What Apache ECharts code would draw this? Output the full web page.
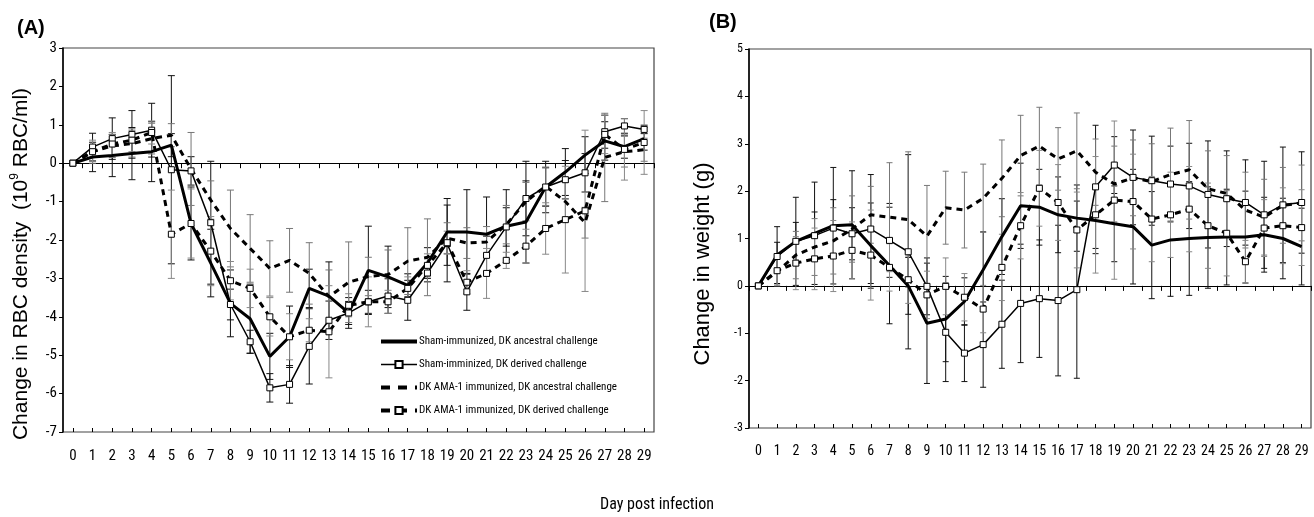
<!DOCTYPE html>
<html><head><meta charset="utf-8">
<script src="https://cdn.jsdelivr.net/npm/echarts@6/dist/echarts.min.js"></script>
<style>html,body{margin:0;padding:0;background:#fff}#c{width:1314px;height:517px}</style>
</head><body><div id="c"></div>
<script>
// ---------- data ----------
const days = ['0','1','2','3','4','5','6','7','8','9','10','11','12','13','14','15','16','17','18','19','20','21','22','23','24','25','26','27','28','29'];
const seriesNames = ['Sham-immunized, DK ancestral challenge','Sham-imminized, DK derived challenge','DK AMA-1 immunized, DK ancestral challenge','DK AMA-1 immunized, DK derived challenge'];

// Panel A: change in RBC density (10^9 RBC/ml)
const rbcShamAnc = [0,0.16,0.2,0.25,0.3,0.47,-1.57,-2.6,-3.65,-4.05,-5.03,-4.52,-3.26,-3.46,-3.9,-2.79,-2.96,-3.18,-2.6,-1.79,-1.79,-1.85,-1.64,-1.53,-0.62,-0.23,0.21,0.58,0.43,0.64];
const rbcShamDer = [0,0.42,0.64,0.75,0.86,-0.17,-0.2,-1.55,-3.68,-4.65,-5.85,-5.76,-4.77,-4.09,-3.9,-3.61,-3.46,-3.57,-2.86,-2.09,-3.35,-2.4,-1.66,-0.92,-0.62,-0.43,-0.25,0.82,0.97,0.88];
const rbcAmaAnc  = [0,0.3,0.45,0.51,0.64,0.73,-0.15,-0.96,-1.7,-2.22,-2.74,-2.53,-2.87,-3.48,-3.1,-2.95,-2.9,-2.55,-2.45,-1.95,-2.08,-2.05,-1.6,-1.0,-0.6,-1.0,-1.55,0.15,0.3,0.35];
const rbcAmaDer  = [0,0.3,0.5,0.6,0.8,-1.85,-1.57,-2.29,-3.06,-3.26,-4.0,-4.52,-4.35,-4.39,-3.7,-3.61,-3.61,-3.26,-2.66,-2.07,-3.1,-2.87,-2.53,-2.16,-1.7,-1.47,-1.24,0.75,0.36,0.54];
const rbcErrShamAnc = [0,0.38,0.55,0.68,0.78,0.3,0.95,0.88,0.87,0.9,0.6,0.8,0.5,0.89,0.4,1.15,0.8,0.3,0.4,0.87,1.1,0.97,0.95,1.07,0.67,0.61,0.48,0.5,0.3,0.3];
const rbcErrShamDer = [0,0.36,0.54,0.62,0.7,2.45,0.37,1.6,0.4,0.3,0.37,0.49,0.98,0.5,0.3,0.3,0.45,0.52,0.23,1.0,0.48,0.5,0.5,0.97,0.5,0.5,0.5,0.43,0.19,0.11];
const rbcErrAmaAnc  = [0,0.25,0.3,0.35,0.4,0.3,0.95,0.5,1.0,0.88,0.72,0.83,0.8,0.7,1.05,0.5,0.64,0.87,1.0,0.4,0.4,0.4,0.5,0.5,0.5,0.5,0.4,1.15,0.4,0.3];
const rbcErrAmaDer  = [0,0.3,0.3,0.3,0.3,1.15,0.9,0.9,0.5,0.5,0.5,0.6,0.3,1.2,0.3,0.65,0.3,0.3,0.3,0.3,0.3,0.65,0.21,0.44,0.67,1.39,2.1,0.5,0.8,0.83];

// Panel B: change in weight (g)
const wtShamAnc = [0,0.65,0.94,1.11,1.27,1.29,0.85,0.43,0.0,-0.79,-0.7,-0.33,0.34,1.04,1.69,1.66,1.5,1.43,1.38,1.31,1.25,0.86,0.97,1.0,1.02,1.03,1.03,1.08,1.0,0.83];
const wtShamDer = [0,0.62,0.94,1.06,1.22,1.1,1.2,0.96,0.72,-0.01,-0.98,-1.42,-1.24,-0.81,-0.37,-0.27,-0.31,-0.08,2.09,2.55,2.29,2.22,2.15,2.11,1.93,1.84,1.76,1.5,1.71,1.76];
const wtAmaAnc  = [0,0.3,0.65,0.82,0.95,1.2,1.5,1.45,1.4,1.05,1.65,1.6,1.85,2.27,2.75,2.95,2.68,2.85,2.4,2.15,2.28,2.2,2.35,2.45,2.05,1.95,1.6,1.45,1.7,1.75];
const wtAmaDer  = [0,0.32,0.48,0.57,0.63,0.75,0.65,0.39,0.13,-0.19,-0.01,-0.24,-0.49,0.39,1.27,2.06,1.76,1.18,1.5,1.81,1.78,1.41,1.5,1.62,1.27,1.11,0.51,1.22,1.27,1.23];
const wtErrShamAnc = [0,0.6,0.93,1.08,1.23,1.14,0.9,1.23,0.6,1.27,0.9,0.5,0.8,0.8,0.9,0.8,0.8,0.7,0.7,0.8,1.21,1.13,1.19,1.2,1.07,1.01,0.97,0.79,0.85,0.81];
const wtErrShamDer = [0,0.3,0.4,0.5,0.6,0.55,1.15,0.78,2.05,0.6,1.04,0.6,0.9,0.93,1.25,1.24,1.59,1.87,1.3,0.6,1.0,0.94,0.8,0.9,1.13,1.01,0.9,1.13,1.22,1.07];
const wtErrAmaAnc  = [0,0.3,0.5,0.6,0.7,0.7,0.6,1.15,1.43,1.07,0.77,0.8,0.72,0.81,0.85,0.82,0.66,0.8,0.7,0.8,0.8,0.8,0.98,1.04,0.8,0.8,0.8,0.8,0.8,0.8];
const wtErrAmaDer  = [0,0.3,0.56,0.65,0.75,0.6,0.95,0.5,0.5,0.5,0.6,0.5,0.5,0.7,0.7,0.8,0.8,0.8,1.23,1.67,1.0,0.9,0.9,0.9,0.9,0.9,0.45,0.6,0.8,0.8];

// ---------- styles ----------
const NARROW = "'Liberation Sans Narrow','Roboto Condensed','Noto Sans Condensed','DejaVu Sans Condensed','Liberation Sans',sans-serif";
const SANS = "'Liberation Sans',Arial,sans-serif";
const DASH = [6, 5];
const lineStyles = [
  {width: 3, type: 'solid', sym: 'none'},
  {width: 1.5, type: 'solid', sym: 'rect'},
  {width: 3, type: DASH, sym: 'none'},
  {width: 3, type: DASH, sym: 'rect'}
];
const errColors = ['#111', '#111', '#777', '#888'];

function lineSeries(i, vals, xi, yi) {
  const s = lineStyles[i];
  return {
    type: 'line', name: seriesNames[i], xAxisIndex: xi, yAxisIndex: yi, z: 5,
    data: vals, symbol: s.sym, symbolSize: 6, showSymbol: s.sym !== 'none', showAllSymbol: true,
    lineStyle: {color: '#000', width: s.width, type: s.type},
    itemStyle: {color: '#fff', borderColor: '#000', borderWidth: 1},
    emphasis: {disabled: true}, animation: false
  };
}
function errSeries(i, vals, errs, xi, yi, cap) {
  return {
    type: 'custom', name: seriesNames[i] + ' error', xAxisIndex: xi, yAxisIndex: yi, z: 2, silent: true,
    data: vals.map((v, k) => [k, v - errs[k], v + errs[k]]),
    encode: {x: 0, y: [1, 2]},
    renderItem: function (params, api) {
      const x = api.value(0);
      const lo = api.coord([x, api.value(1)]);
      const hi = api.coord([x, api.value(2)]);
      const st = {stroke: errColors[i], lineWidth: 1};
      if (Math.abs(hi[1] - lo[1]) < 0.5) return {type: 'group', children: []};
      return {type: 'group', children: [
        {type: 'line', shape: {x1: lo[0], y1: lo[1], x2: hi[0], y2: hi[1]}, style: st},
        {type: 'line', shape: {x1: hi[0] - cap, y1: hi[1], x2: hi[0] + cap, y2: hi[1]}, style: st},
        {type: 'line', shape: {x1: lo[0] - cap, y1: lo[1], x2: lo[0] + cap, y2: lo[1]}, style: st}
      ]};
    },
    animation: false
  };
}
function xAxes(gi, fontSize, margin) {
  return [
    {type: 'category', gridIndex: gi, data: days, boundaryGap: true, position: 'bottom',
     axisLine: {show: false, onZero: false}, axisTick: {show: false},
     axisLabel: {interval: 0, fontSize: fontSize, fontFamily: NARROW, color: '#000', margin: margin}},
    {type: 'category', gridIndex: gi, data: days, boundaryGap: true, position: 'bottom',
     axisLine: {show: true, onZero: true, lineStyle: {color: '#000', width: 1.2}},
     axisTick: {show: true, interval: 0, alignWithLabel: false, length: 5, lineStyle: {color: '#000'}},
     axisLabel: {show: false}},
    {type: 'category', gridIndex: gi, data: days, boundaryGap: true, position: 'bottom',
     axisLine: {show: false, onZero: true},
     axisTick: {show: true, interval: 0, alignWithLabel: true, inside: true, length: 4, lineStyle: {color: '#000'}},
     axisLabel: {show: false}}
  ];
}
function yAxis(gi, min, max, fontSize) {
  return {type: 'value', gridIndex: gi, min: min, max: max, interval: 1,
    axisLine: {show: true, lineStyle: {color: '#000', width: 1.5}},
    axisTick: {show: true, length: 4, lineStyle: {color: '#000'}},
    axisLabel: {fontSize: fontSize, fontFamily: NARROW, color: '#000', margin: 6},
    splitLine: {show: false}};
}

const chart = echarts.init(document.getElementById('c'), null, {renderer: 'canvas'});
chart.setOption({
  animation: false,
  backgroundColor: '#fff',
  grid: [
    {left: 63, top: 48, width: 591, height: 384, show: true, borderColor: '#444', borderWidth: 1.2, backgroundColor: 'transparent'},
    {left: 749, top: 49, width: 562, height: 379, show: true, borderColor: '#444', borderWidth: 1.2, backgroundColor: 'transparent'}
  ],
  xAxis: xAxes(0, 15, 17).concat(xAxes(1, 14, 16)),
  yAxis: [yAxis(0, -7, 3, 15), yAxis(1, -3, 5, 12)],
  legend: {
    data: [
      {name: seriesNames[0], itemStyle: {opacity: 0}, lineStyle: {width: 4, type: 'solid', color: '#000'}},
      {name: seriesNames[1], lineStyle: {width: 1.5, type: 'solid', color: '#000'}},
      {name: seriesNames[2], itemStyle: {opacity: 0}, lineStyle: {width: 4, type: [9, 8], color: '#000'}},
      {name: seriesNames[3], lineStyle: {width: 4, type: [9, 8], color: '#000'}}
    ],
    orient: 'vertical', left: 374, top: 331, itemWidth: 36, itemHeight: 9, itemGap: 12,
    selectedMode: false, textStyle: {fontSize: 11, fontFamily: NARROW, color: '#000', padding: [0, 0, 0, -3]}
  },
  graphic: [
    {type: 'text', left: 17, top: 18, style: {text: '(A)', font: "bold 20px " + SANS, fill: '#000'}},
    {type: 'text', left: 709, top: 12, style: {text: '(B)', font: "bold 20px " + SANS, fill: '#000'}},
    {type: 'text', x: 21, y: 264, rotation: Math.PI / 2,
     style: {text: 'Change in RBC density  (10{sup|9} RBC/ml)', font: "21px " + SANS, fill: '#000', align: 'center', verticalAlign: 'middle',
       rich: {sup: {fontSize: 12, fontFamily: SANS, verticalAlign: 'top', lineHeight: 24}}}},
    {type: 'text', x: 703, y: 264, rotation: Math.PI / 2,
     style: {text: 'Change in weight (g)', font: "22px " + SANS, fill: '#000', align: 'center', verticalAlign: 'middle'}},
    {type: 'text', x: 657, y: 505,
     style: {text: 'Day post infection', font: "16px " + NARROW, fill: '#000', align: 'center', verticalAlign: 'middle'}}
  ],
  series: [
    errSeries(0, rbcShamAnc, rbcErrShamAnc, 0, 0, 3.5),
    errSeries(1, rbcShamDer, rbcErrShamDer, 0, 0, 3.5),
    errSeries(2, rbcAmaAnc, rbcErrAmaAnc, 0, 0, 3.5),
    errSeries(3, rbcAmaDer, rbcErrAmaDer, 0, 0, 3.5),
    lineSeries(0, rbcShamAnc, 0, 0),
    lineSeries(1, rbcShamDer, 0, 0),
    lineSeries(2, rbcAmaAnc, 0, 0),
    lineSeries(3, rbcAmaDer, 0, 0),
    errSeries(0, wtShamAnc, wtErrShamAnc, 3, 1, 3),
    errSeries(1, wtShamDer, wtErrShamDer, 3, 1, 3),
    errSeries(2, wtAmaAnc, wtErrAmaAnc, 3, 1, 3),
    errSeries(3, wtAmaDer, wtErrAmaDer, 3, 1, 3),
    lineSeries(0, wtShamAnc, 3, 1),
    lineSeries(1, wtShamDer, 3, 1),
    lineSeries(2, wtAmaAnc, 3, 1),
    lineSeries(3, wtAmaDer, 3, 1)
  ]
});
</script></body></html>
